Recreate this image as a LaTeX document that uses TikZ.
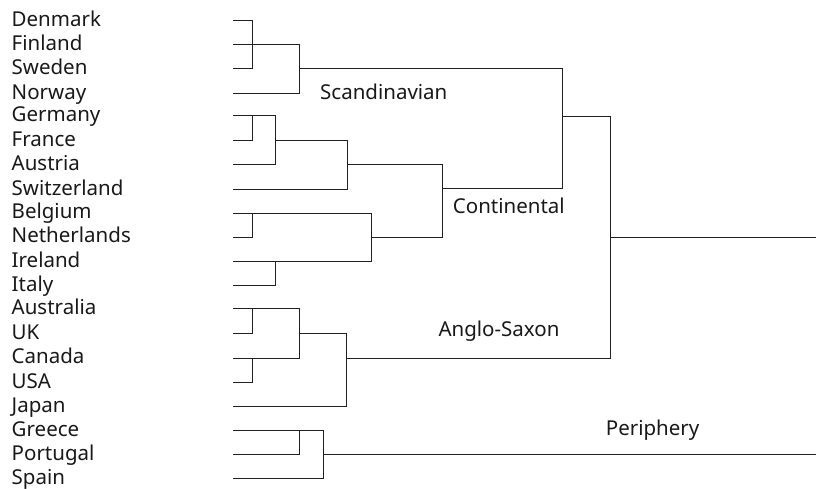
\documentclass[tikz,border=0pt]{standalone}
\usepackage{fontspec}
\setmainfont{Noto Sans}
\begin{document}
\begin{tikzpicture}[x=1pt,y=-1pt,
  br/.style={draw=black!87,line width=1pt},
  country/.style={anchor=base west,inner sep=0pt,font=\fontsize{20.5}{24}\selectfont,text=black!90},
  group/.style={anchor=base west,inner sep=0pt,font=\fontsize{20.5}{24}\selectfont,text=black!90}]
\useasboundingbox (0,0) rectangle (816,489);
% country labels
\foreach \n/\t/\y in {den/Denmark/20.7,fin/Finland/45,swe/Sweden/69,nor/Norway/93.3,
  ger/Germany/115.7,fra/France/141,aut/Austria/164.7,swi/Switzerland/189.3,
  bel/Belgium/213,net/Netherlands/237,ire/Ireland/261.3,ita/Italy/285.7,
  aus/Australia/308.3,uk/UK/333.7,can/Canada/358,usa/USA/382.3,jap/Japan/406.3,
  gre/Greece/430.3,por/Portugal/454.7,spa/Spain/478.3}{
  \node[country] (\n) at (11.5,\y+5.8) {\t};
}
% group labels
\node[group] (scan) at (320,100) {Scandinavian};
\node[group] (cont) at (452.7,214) {Continental};
\node[group] (anglo) at (438.3,336.7) {Anglo-Saxon};
\node[group] (peri) at (605.7,435) {Periphery};
% Scandinavian
\draw[br] (233,20.7) -- (252,20.7) -- (252,69) -- (233,69);
\draw[br] (233,45) -- (299.3,45) -- (299.3,93.3) -- (233,93.3);
\draw[br] (299.3,69) -- (562.7,69);
% Continental
\draw[br] (233,115.7) -- (275,115.7) -- (275,164.7) -- (233,164.7);
\draw[br] (233,141) -- (252,141) -- (252,115.7);
\draw[br] (275,141) -- (347.7,141) -- (347.7,189.3) -- (233,189.3);
\draw[br] (347.7,165) -- (442.7,165) -- (442.7,237) -- (371.7,237);
\draw[br] (233,213) -- (371.7,213) -- (371.7,261.3) -- (233,261.3);
\draw[br] (233,237) -- (252,237) -- (252,213);
\draw[br] (233,285.7) -- (275,285.7) -- (275,261.3);
\draw[br] (442.7,189) -- (562.7,189) -- (562.7,69);
\draw[br] (562.7,117) -- (610.7,117) -- (610.7,358.3);
\draw[br] (610.7,237.3) -- (816,237.3);
% Anglo-Saxon
\draw[br] (233,308.3) -- (299.3,308.3) -- (299.3,358) -- (233,358);
\draw[br] (233,333.7) -- (252,333.7) -- (252,308.3);
\draw[br] (233,382.3) -- (252,382.3) -- (252,358);
\draw[br] (299.3,333.7) -- (346.7,333.7) -- (346.7,406.3) -- (233,406.3);
\draw[br] (346.7,358.3) -- (610.7,358.3);
% Periphery
\draw[br] (233,430.3) -- (323.3,430.3) -- (323.3,478.3) -- (233,478.3);
\draw[br] (233,454.7) -- (299.3,454.7) -- (299.3,430.3);
\draw[br] (323.3,454.7) -- (816,454.7);
\end{tikzpicture}
\end{document}
